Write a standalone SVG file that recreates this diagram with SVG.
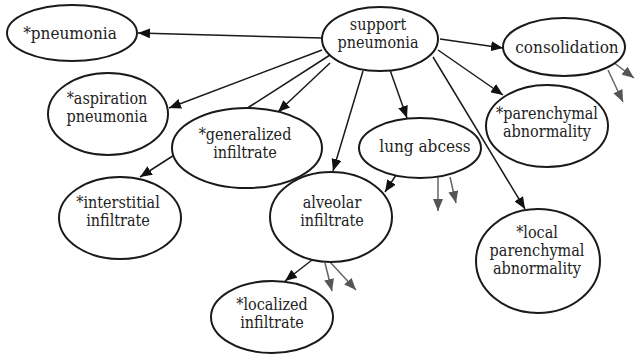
<svg xmlns="http://www.w3.org/2000/svg" width="635" height="354" viewBox="0 0 635 354">
<style>
.n ellipse{fill:#fff;stroke:#1a1a1a;stroke-width:2}
text{font-family:"DejaVu Serif Condensed","DejaVu Serif",serif;font-size:16px;fill:#222;text-anchor:middle}
.e line{stroke:#1a1a1a;stroke-width:1.5;marker-end:url(#ah)}
.e line.g{stroke:#666;stroke-width:1.5;marker-end:url(#ag)}
</style>
<defs>
<marker id="ah" markerUnits="userSpaceOnUse" markerWidth="12" markerHeight="10" refX="12" refY="5" orient="auto"><path d="M0,0 L12,5 L0,10 z" fill="#111"/></marker>
<marker id="ag" markerUnits="userSpaceOnUse" markerWidth="12" markerHeight="10" refX="12" refY="5" orient="auto"><path d="M0,0 L12,5 L0,10 z" fill="#555"/></marker>
</defs>
<rect width="635" height="354" fill="#fff"/>
<g id="connectors" class="e">
<line x1="322" y1="38" x2="138" y2="33"/>
<line x1="322" y1="50" x2="169" y2="108"/>
<line x1="330" y1="63" x2="278" y2="112"/>
<line x1="330" y1="55" x2="140" y2="177"/>
<line x1="363" y1="71" x2="333" y2="171"/>
<line x1="390" y1="70" x2="407" y2="118"/>
<line x1="433" y1="57" x2="525" y2="209"/>
<line x1="438" y1="50" x2="503" y2="95"/>
<line x1="440" y1="39" x2="503" y2="48"/>
<line x1="398" y1="172" x2="385" y2="192"/>
<line x1="312" y1="260" x2="285" y2="281"/>
<line class="g" x1="613" y1="62" x2="634" y2="78"/>
<line class="g" x1="608" y1="70" x2="623" y2="102"/>
<line class="g" x1="438" y1="177" x2="438" y2="211"/>
<line class="g" x1="450" y1="177" x2="456" y2="203"/>
<line class="g" x1="325" y1="263" x2="332" y2="291"/>
<line class="g" x1="330" y1="262" x2="356" y2="290"/>
</g>
<g id="pneumonia" class="n"><ellipse cx="72" cy="33" rx="65" ry="28"/><text x="70" y="39" style="font-size:17px">*pneumonia</text></g>
<g id="support" class="n"><ellipse cx="380" cy="39" rx="58" ry="32"/><text x="378" y="30">support</text><text x="378" y="48">pneumonia</text></g>
<g id="consolidation" class="n"><ellipse cx="564" cy="47" rx="61" ry="29"/><text x="567" y="53" style="font-size:17px">consolidation</text></g>
<g id="aspiration" class="n"><ellipse cx="108" cy="114" rx="60" ry="41"/><text x="107" y="104">*aspiration</text><text x="107" y="122">pneumonia</text></g>
<g id="generalized" class="n"><ellipse cx="247" cy="148" rx="75" ry="40"/><text x="245" y="140">*generalized</text><text x="245" y="158">infiltrate</text></g>
<g id="lungabcess" class="n"><ellipse cx="420" cy="148" rx="61" ry="30"/><text x="425" y="152" style="font-size:17px">lung abcess</text></g>
<g id="parenchymal" class="n"><ellipse cx="547" cy="126" rx="61" ry="41"/><text x="547" y="119">*parenchymal</text><text x="547" y="137">abnormality</text></g>
<g id="interstitial" class="n"><ellipse cx="120" cy="218" rx="61" ry="41"/><text x="118" y="208">*interstitial</text><text x="118" y="226">infiltrate</text></g>
<g id="alveolar" class="n"><ellipse cx="331" cy="217" rx="61" ry="45"/><text x="332" y="208">alveolar</text><text x="332" y="226">infiltrate</text></g>
<g id="localized" class="n"><ellipse cx="272" cy="317" rx="61" ry="36"/><text x="272" y="310">*localized</text><text x="272" y="328">infiltrate</text></g>
<g id="localparenchymal" class="n"><ellipse cx="538" cy="261" rx="62" ry="52"/><text x="537" y="238">*local</text><text x="537" y="256">parenchymal</text><text x="537" y="274">abnormality</text></g>
</svg>
